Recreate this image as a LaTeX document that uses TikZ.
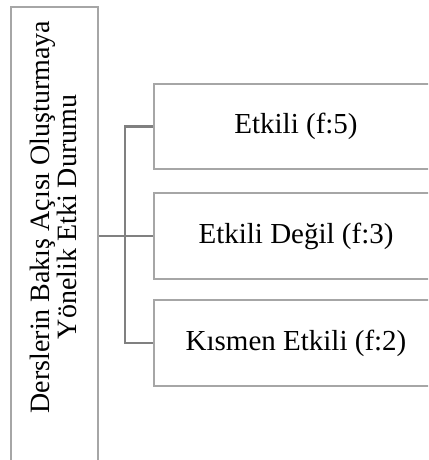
\documentclass[tikz,border=0pt]{standalone}
\usepackage{fontspec}
\setmainfont{Liberation Serif}
\begin{document}
\begin{tikzpicture}[x=1bp,y=-1bp,
  frame/.style={draw=boxgray,line width=2bp,rectangle,inner sep=0pt},
  conn/.style={draw=linegray,line width=2.4bp},
  label/.style={font=\fontsize{29bp}{27bp}\selectfont,text=black,inner sep=0pt,align=center},
  sidelabel/.style={font=\fontsize{28bp}{27bp}\selectfont,text=black,inner sep=0pt,align=center}]
\definecolor{boxgray}{HTML}{A6A6A6}
\definecolor{linegray}{HTML}{808080}
\useasboundingbox (0,0) rectangle (428,460);
\clip (0,0) rectangle (428,460);
% root frame, running past the lower edge
\node[frame,minimum width=87bp,minimum height=480bp,anchor=north west] (root) at (10,6) {};
\node[sidelabel,rotate=90] (roottext) at (53.5,217) {Derslerin Bakış Açısı Oluşturmaya\\Yönelik Etki Durumu};
% outcome frames, running past the right edge
\node[frame,minimum width=284bp,minimum height=85bp,anchor=north west] (b1) at (153,83) {};
\node[frame,minimum width=284bp,minimum height=86bp,anchor=north west] (b2) at (153,192) {};
\node[frame,minimum width=284bp,minimum height=86bp,anchor=north west] (b3) at (153,299) {};
\node[label] (t1) at (b1.center) {Etkili (f:5)};
\node[label] (t2) at (b2.center) {Etkili Değil (f:3)};
\node[label] (t3) at (b3.center) {Kısmen Etkili (f:2)};
% connectors
\coordinate (bus) at (125,0);
\draw[conn] (root.east |- b2.west) -- (b2.west);
\draw[conn] (b1.west) -- (bus |- b1.west) -- (bus |- b3.west) -- (b3.west);
\end{tikzpicture}
\end{document}
